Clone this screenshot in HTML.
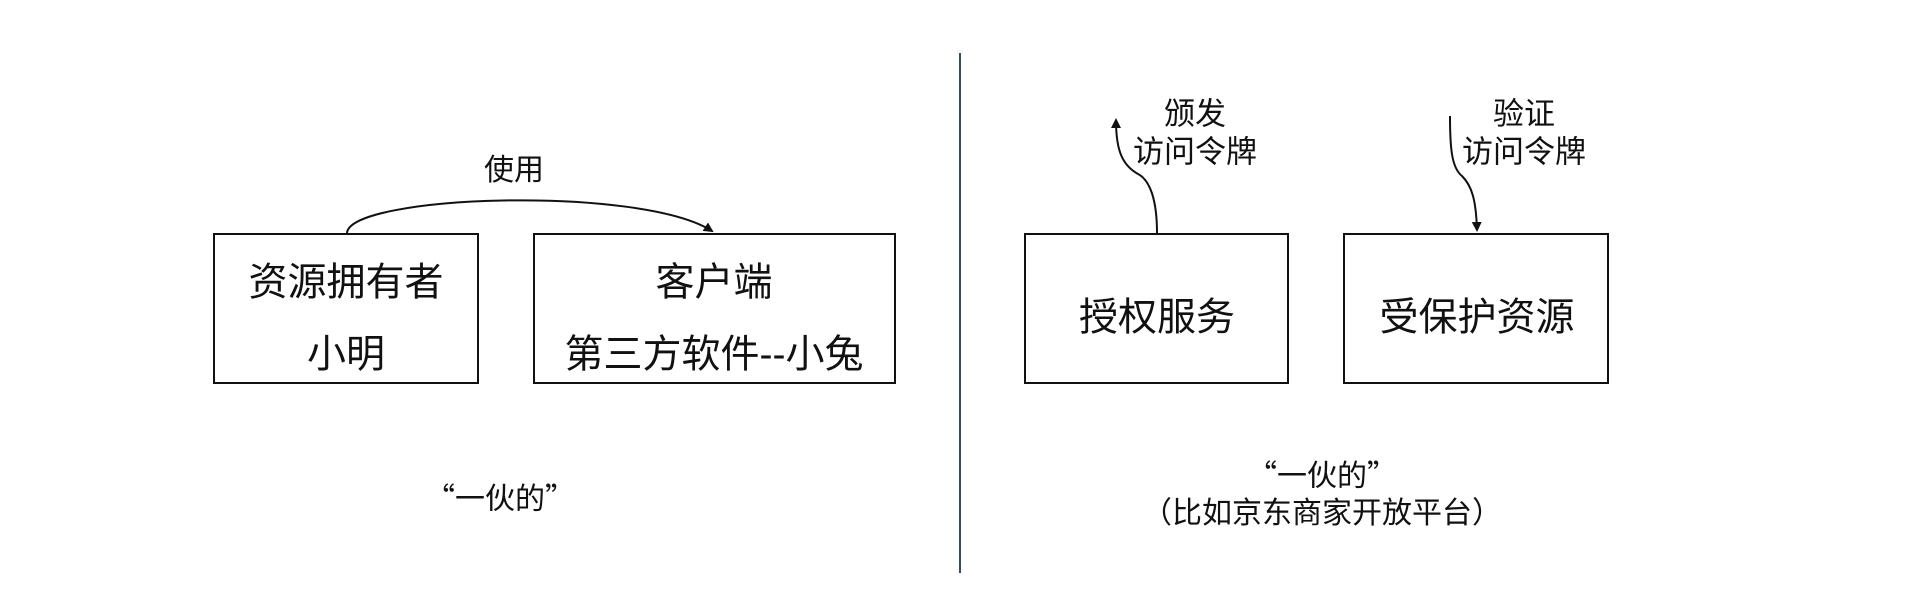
<!DOCTYPE html>
<html><head><meta charset="utf-8"><style>
html,body{margin:0;padding:0;background:#fff;}
body{width:1920px;height:612px;position:relative;overflow:hidden;font-family:"Liberation Sans","Noto Sans CJK SC",sans-serif;color:#111;}
.b{position:absolute;border:2px solid #111;box-sizing:border-box;}
.t{position:absolute;white-space:nowrap;transform:translate(-50%,-50%);line-height:1;}
.q{font-family:"Noto Sans CJK SC",sans-serif;}
</style></head><body>
<svg width="1920" height="612" style="position:absolute;left:0;top:0">
<defs><marker id="a" markerWidth="10" markerHeight="10" refX="8" refY="5" orient="auto" markerUnits="userSpaceOnUse"><path d="M0,0 L10,5 L0,10 Z" fill="#111"/></marker></defs>
<line x1="960" y1="53" x2="960" y2="573" stroke="#3a4a66" stroke-width="2"/>
<path d="M347,233 C350,195 640,185 712,231" fill="none" stroke="#111" stroke-width="2" marker-end="url(#a)"/>
<path d="M1157,233 C1157,200 1150,180 1138,174 C1122,165 1116,150 1116,120" fill="none" stroke="#111" stroke-width="2" marker-end="url(#a)"/>
<path d="M1450,116 C1450,150 1452,168 1462,176 C1472,186 1476,200 1477,230" fill="none" stroke="#111" stroke-width="2" marker-end="url(#a)"/>
</svg>
<div class="b" style="left:213px;top:233px;width:266px;height:151px"></div>
<div class="b" style="left:533px;top:233px;width:363px;height:151px"></div>
<div class="b" style="left:1024px;top:233px;width:265px;height:151px"></div>
<div class="b" style="left:1343px;top:233px;width:266px;height:151px"></div>
<div class="t" style="left:346px;top:283px;font-size:39px">资源拥有者</div>
<div class="t" style="left:346px;top:355px;font-size:39px">小明</div>
<div class="t" style="left:714px;top:283px;font-size:39px">客户端</div>
<div class="t" style="left:714px;top:355px;font-size:39px">第三方软件--小兔</div>
<div class="t" style="left:1157px;top:318px;font-size:39px">授权服务</div>
<div class="t" style="left:1477px;top:318px;font-size:39px">受保护资源</div>
<div class="t" style="left:514px;top:171px;font-size:30px">使用</div>
<div class="t q" style="left:500px;top:496px;font-size:30px">“一伙的”</div>
<div class="t q" style="left:1322px;top:473px;font-size:30px">“一伙的”</div>
<div class="t" style="left:1322px;top:514px;font-size:30px">（比如京东商家开放平台）</div>
<div class="t" style="left:1195px;top:114px;font-size:31px">颁发</div>
<div class="t" style="left:1195px;top:152px;font-size:31px">访问令牌</div>
<div class="t" style="left:1524px;top:114px;font-size:31px">验证</div>
<div class="t" style="left:1524px;top:152px;font-size:31px">访问令牌</div>
</body></html>
